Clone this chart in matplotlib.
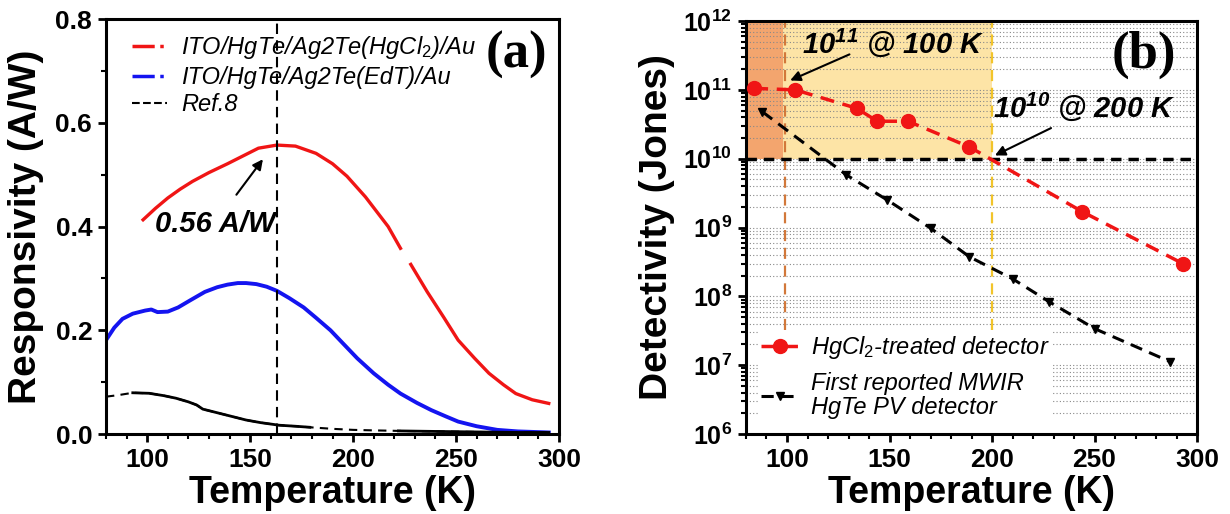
import numpy as np
import matplotlib
matplotlib.use("Agg")
import matplotlib.pyplot as plt
from matplotlib.lines import Line2D
from matplotlib.ticker import MultipleLocator, LogLocator, NullFormatter, FuncFormatter

plt.rcParams['font.family'] = ['Liberation Sans', 'DejaVu Sans']
plt.rcParams['mathtext.fontset'] = 'custom'
plt.rcParams['mathtext.rm'] = 'Liberation Sans'
plt.rcParams['mathtext.it'] = 'Liberation Sans:italic'
plt.rcParams['mathtext.bf'] = 'Liberation Sans:bold'
plt.rcParams['mathtext.bfit'] = 'Liberation Sans:bold:italic'

# ---- panel (a): responsivity vs temperature ----
red_T = [98, 104, 110, 116, 122, 130, 139, 147, 154, 163, 172, 182, 190, 197, 206, 217, 223,
         np.nan, 228, 236, 244, 251, 259, 266, 273, 279, 287, 295]
red_R = [0.413, 0.435, 0.455, 0.472, 0.487, 0.504, 0.521, 0.537, 0.551, 0.557, 0.555, 0.541,
         0.521, 0.497, 0.457, 0.400, 0.358, np.nan, 0.327, 0.274, 0.225, 0.181, 0.146,
         0.117, 0.095, 0.078, 0.066, 0.059]

blue_T = [80, 84, 88, 93, 99, 102, 105, 110, 115, 121, 128, 134, 139, 144, 148, 153, 158,
          163, 169, 176, 182, 189, 195, 202, 210, 217, 223, 231, 238, 245, 251, 260, 270,
          280, 295]
blue_R = [0.181, 0.205, 0.222, 0.232, 0.238, 0.240, 0.235, 0.236, 0.244, 0.258, 0.274,
          0.283, 0.288, 0.291, 0.291, 0.289, 0.284, 0.276, 0.262, 0.244, 0.224, 0.200,
          0.175, 0.146, 0.117, 0.095, 0.078, 0.060, 0.046, 0.034, 0.024, 0.015, 0.008,
          0.005, 0.003]

ref_T = [80, 86, 93, 101, 108, 114, 120, 124, 127, 134, 142, 148, 155, 164, 172, 179, 190,
         200, 210, 218, 222, 240, 260, 280, 295]
ref_R = [0.072, 0.075, 0.0795, 0.0785, 0.074, 0.069, 0.062, 0.056, 0.048, 0.041, 0.033,
         0.027, 0.022, 0.017, 0.015, 0.013, 0.010, 0.008, 0.007, 0.0064, 0.006, 0.005,
         0.004, 0.003, 0.003]
ref_solid = [(93, 179), (222, 295)]   # measured ranges drawn solid

peak_T = 163

# ---- panel (b): detectivity vs temperature ----
hg_T = [84, 104, 134, 144, 159, 189, 244, 293]
hg_D = [1.05e11, 1.0e11, 5.4e10, 3.5e10, 3.5e10, 1.48e10, 1.7e9, 3.0e8]

pv_T = [88, 129, 149, 170, 189, 210, 228, 250, 287]
pv_D = [4.8e10, 5.8e9, 2.5e9, 9.8e8, 3.75e8, 1.8e8, 8.3e7, 3.4e7, 1.12e7]

ytick_exp = [6, 7, 8, 9, 10, 11, 12]

fig = plt.figure(figsize=(12.3, 5.14), dpi=100)
ax1 = fig.add_axes([0.0862, 0.1556, 0.3683, 0.8074])
ax2 = fig.add_axes([0.6065, 0.1556, 0.3667, 0.8035])

# ------------------- (a) -------------------
ax1.plot(red_T, red_R, color='#f01515', lw=2.4)
ax1.plot(blue_T, blue_R, color='#1414f0', lw=2.8)
ax1.plot(ref_T, ref_R, color='black', lw=1.5, ls=(0, (4, 3)))
rt = np.array(ref_T)
rr = np.array(ref_R)
for lo, hi in ref_solid:
    m = (rt >= lo) & (rt <= hi)
    ax1.plot(rt[m], rr[m], color='black', lw=2.0)
ax1.axvline(peak_T, color='black', lw=1.5, ls=(0, (5, 3)))

ax1.set_xlim(80, 300)
ax1.set_ylim(0, 0.8)
ax1.xaxis.set_major_locator(MultipleLocator(50))
ax1.xaxis.set_minor_locator(MultipleLocator(10))
ax1.yaxis.set_major_locator(MultipleLocator(0.2))
ax1.yaxis.set_minor_locator(MultipleLocator(0.1))
ax1.yaxis.set_major_formatter(FuncFormatter(lambda v, p: f'{v:.1f}'))

handles_a = [
    Line2D([], [], color='#f01515', lw=2.5, ls='-.'),
    Line2D([], [], color='#1414f0', lw=2.5, ls='-.'),
    Line2D([], [], color='black', lw=1.5, ls='--'),
]
labels_a = [r'ITO/HgTe/Ag2Te(HgCl$_\mathit{2}$)/Au', 'ITO/HgTe/Ag2Te(EdT)/Au', 'Ref.8']
ax1.legend(handles_a, labels_a, loc='upper left', bbox_to_anchor=(0.01, 1.015),
           frameon=False, handlelength=1.5, handletextpad=0.6, labelspacing=0.2,
           prop={'style': 'italic', 'size': 17})

ax1.annotate('', xy=(157, 0.534), xytext=(142.5, 0.457),
             arrowprops=dict(arrowstyle='-|>', color='black', lw=1.5, mutation_scale=15))
ax1.text(133, 0.405, '0.56 A/W', fontsize=21, fontweight='bold', style='italic',
         ha='center', va='center')
ax1.text(0.905, 0.913, '(a)', transform=ax1.transAxes, fontsize=38, fontweight='bold',
         family='Liberation Serif', ha='center', va='center')

ax1.set_xlabel('Temperature (K)', fontsize=27, fontweight='bold', labelpad=2)
ax1.set_ylabel('Responsivity (A/W)', fontsize=28, fontweight='bold', labelpad=8)

# ------------------- (b) -------------------
ax2.set_yscale('log')
ax2.set_xlim(80, 300)
ax2.set_ylim(1e6, 1e12)
ax2.set_axisbelow(True)
ax2.fill_between([80, 98], 1e10, 1e12, color='#f3a56e', lw=0, zorder=0.2)
ax2.fill_between([98, 200], 1e10, 1e12, color='#fde4a6', lw=0, zorder=0.2)
ax2.yaxis.grid(True, which='both', ls=(0, (1, 2)), color='#888888', lw=0.8)

ax2.plot([99, 99], [3.2e7, 1e12], color='#d2783a', lw=1.6, ls=(0, (5, 3)), zorder=1)
ax2.plot([200, 200], [3.2e7, 1e12], color='#f2c42a', lw=1.6, ls=(0, (5, 3)), zorder=1)
ax2.axhline(1e10, color='black', lw=2.5, ls=(0, (3, 2)), zorder=2)

ax2.plot(pv_T, pv_D, color='black', lw=2.2, ls=(0, (4, 2.5)), marker='v', ms=6,
         label='First reported MWIR\nHgTe PV detector', zorder=3)
ax2.plot(hg_T, hg_D, color='#f01515', lw=2.5, ls=(0, (4, 2.5)), marker='o', ms=10,
         label=r'HgCl$_\mathit{2}$-treated detector', zorder=4)

ax2.xaxis.set_major_locator(MultipleLocator(50))
ax2.xaxis.set_minor_locator(MultipleLocator(10))
ax2.yaxis.set_major_locator(LogLocator(base=10, numticks=20))
ax2.yaxis.set_minor_locator(LogLocator(base=10, subs=np.arange(2, 10), numticks=20))
ax2.yaxis.set_minor_formatter(NullFormatter())
ax2.set_yticks([10.0 ** e for e in ytick_exp])
ax2.set_yticklabels([r'$\mathbf{10^{%d}}$' % e for e in ytick_exp])

h, l = ax2.get_legend_handles_labels()
leg = ax2.legend(h[::-1], l[::-1], loc='lower left', bbox_to_anchor=(0.0, 0.0),
                 frameon=True, fancybox=False, framealpha=1, edgecolor='none',
                 handlelength=1.6, handletextpad=0.5, labelspacing=0.45, borderpad=0.15,
                 prop={'style': 'italic', 'size': 17})
leg.set_zorder(5)
for t in leg.get_texts():
    t.set_linespacing(1.05)

ax2.annotate('', xy=(100.3, 1.32e11), xytext=(131.7, 3.4e11),
             arrowprops=dict(arrowstyle='-|>', color='black', lw=1.5, mutation_scale=15))
ax2.annotate('', xy=(200.2, 1.07e10), xytext=(230, 2.9e10),
             arrowprops=dict(arrowstyle='-|>', color='black', lw=1.5, mutation_scale=15))
ax2.text(151.7, 10 ** 11.68, r'10$^{\mathbfit{11}}$ @ 100 K', fontsize=21,
         fontweight='bold', style='italic', ha='center', va='center')
ax2.text(245, 10 ** 10.755, r'10$^{\mathbfit{10}}$ @ 200 K', fontsize=21,
         fontweight='bold', style='italic', ha='center', va='center')
ax2.text(0.882, 0.918, '(b)', transform=ax2.transAxes, fontsize=38, fontweight='bold',
         family='Liberation Serif', ha='center', va='center')

ax2.set_xlabel('Temperature (K)', fontsize=27, fontweight='bold', labelpad=2)
ax2.set_ylabel('Detectivity (Jones)', fontsize=28, fontweight='bold', labelpad=6)

for ax in (ax1, ax2):
    for s in ax.spines.values():
        s.set_linewidth(2.2)
    ax.tick_params(which='major', direction='out', length=6, width=2.0, labelsize=19, pad=4)
    ax.tick_params(which='minor', direction='out', length=3.5, width=1.5)
    for lab in ax.get_xticklabels() + ax.get_yticklabels():
        lab.set_fontweight('bold')
ax2.tick_params(axis='y', which='major', labelsize=18)

fig.savefig('out.png', dpi=100)
